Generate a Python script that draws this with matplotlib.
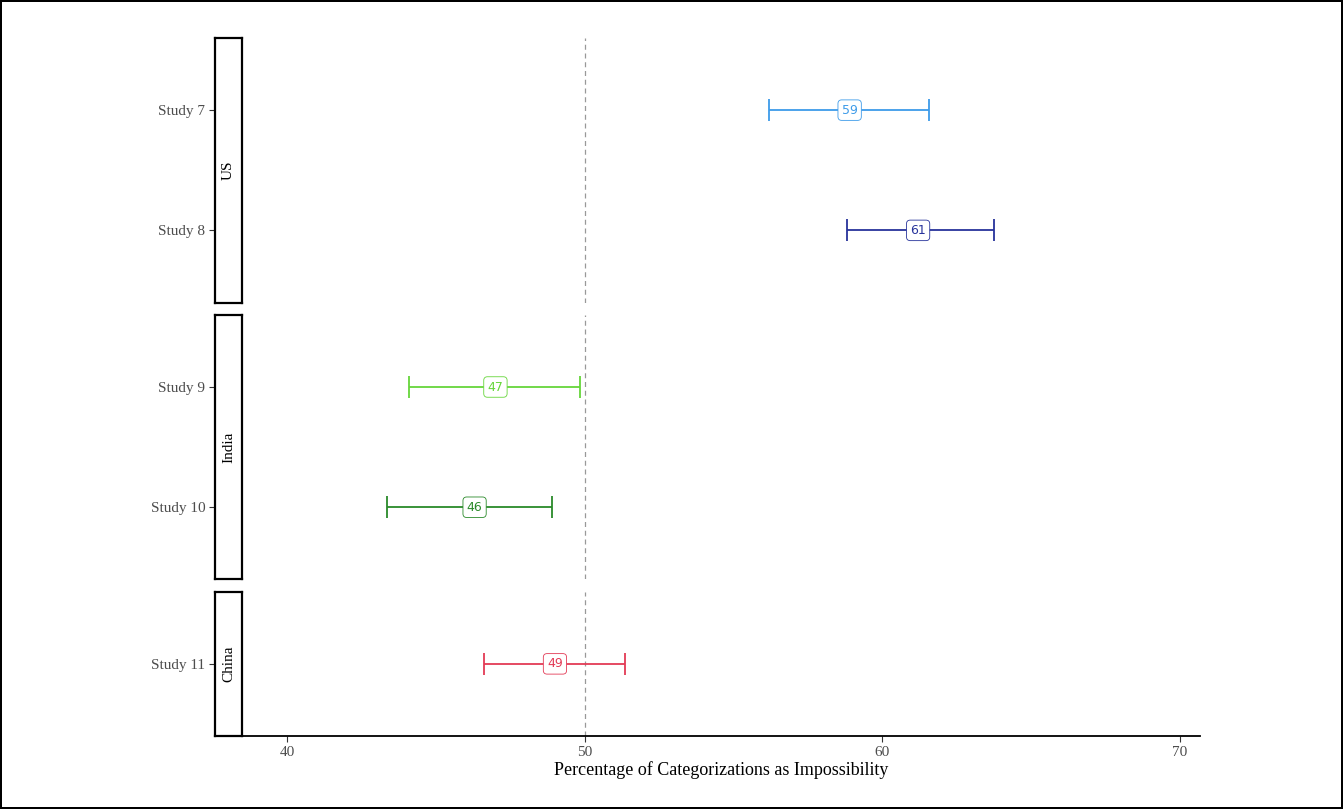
import numpy as np
import matplotlib
matplotlib.use("Agg")
import matplotlib.pyplot as plt

# data
studies = ["Study 7", "Study 8", "Study 9", "Study 10", "Study 11"]
country = ["US", "US", "India", "India", "China"]
estimate = [58.9, 61.2, 47.0, 46.3, 49.0]
lower = [56.2, 58.8, 44.1, 43.35, 46.6]
upper = [61.55, 63.75, 49.85, 48.9, 51.35]
labels = ["59", "61", "47", "46", "49"]
colors = ["#3d9be9", "#27339b", "#66d63a", "#2a8a2a", "#e33a55"]
panels = ["US", "India", "China"]
xticks = [40, 50, 60, 70]

serif = "Liberation Serif"

fig = plt.figure(figsize=(13.43, 8.09), dpi=100, facecolor="white",
                 edgecolor="black", linewidth=1.5)

counts = [country.count(p) for p in panels]
ratios = [c - 1 + 1.2 for c in counts]
gs = fig.add_gridspec(len(panels), 1, height_ratios=ratios,
                      left=243/1343, right=1200/1343,
                      top=1 - 38/809, bottom=1 - 736/809, hspace=0.055)

for i, p in enumerate(panels):
    ax = fig.add_subplot(gs[i])
    idx = [k for k in range(len(studies)) if country[k] == p]
    ylim = (len(idx) - 1 + 0.6, -0.6)
    ax.set_xlim(38.52, 70.67)
    ax.set_ylim(*ylim)
    ax.axvline(50, color="#999999", linestyle=(0, (4, 3)), linewidth=0.9, zorder=1)
    for j, k in enumerate(idx):
        ax.errorbar(estimate[k], j, xerr=[[estimate[k] - lower[k]], [upper[k] - estimate[k]]],
                    fmt="none", ecolor=colors[k], elinewidth=1.3, capsize=8,
                    capthick=1.3, zorder=2)
        ax.text(estimate[k], j, labels[k], ha="center", va="center", fontsize=9,
                color=colors[k], family="DejaVu Sans", zorder=3,
                bbox=dict(boxstyle="round,pad=0.3,rounding_size=0.3", facecolor="white",
                          edgecolor=colors[k], linewidth=0.6))
    for s in ["top", "right", "left"]:
        ax.spines[s].set_visible(False)
    ax.set_yticks([])
    if i == len(panels) - 1:
        ax.spines["bottom"].set_linewidth(1.3)
        ax.spines["bottom"].set_color("black")
        ax.set_xticks(xticks)
        ax.tick_params(axis="x", length=4, width=0.8, color="#333333",
                       labelcolor="#4d4d4d", labelsize=11, pad=3)
        for t in ax.get_xticklabels():
            t.set_family(serif)
        ax.set_xlabel("Percentage of Categorizations as Impossibility",
                      family=serif, fontsize=13, labelpad=2)
    else:
        ax.spines["bottom"].set_visible(False)
        ax.set_xticks([])

    # strip on the left, with the y ticks outside it
    strip = ax.inset_axes([-28/957, 0, 27/957, 1])
    strip.set_ylim(*ylim)
    strip.set_xticks([])
    strip.set_yticks(range(len(idx)))
    strip.set_yticklabels([studies[k] for k in idx], family=serif)
    strip.tick_params(axis="y", length=4, width=0.8, color="#333333",
                      labelcolor="#4d4d4d", labelsize=11, pad=3)
    for s in strip.spines.values():
        s.set_linewidth(1.6)
        s.set_color("black")
    strip.text(0.5, 0.5, p, transform=strip.transAxes, rotation=90,
               ha="center", va="center", family=serif, fontsize=11)

fig.savefig("out.png", dpi=100)
